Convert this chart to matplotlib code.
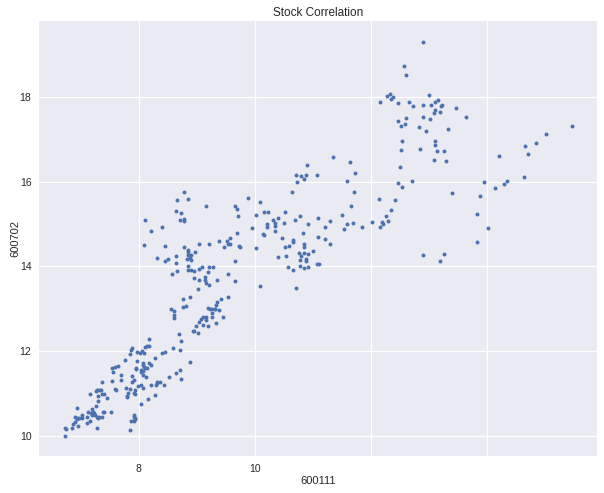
import matplotlib
matplotlib.use("Agg")
import matplotlib.pyplot as plt

stock_600111 = [
6.74,6.75,6.74,6.86,6.87,6.91,6.96,6.94,6.91,6.94,6.94,6.98,7.03,7.03,7.11,7.11,7.17,7.17,7.29,7.13,
7.20,7.18,7.22,7.20,7.24,7.25,7.29,7.30,7.32,7.37,7.39,7.41,7.53,7.27,7.30,7.30,7.27,7.30,7.29,7.34,
7.36,7.37,7.41,7.46,7.37,7.55,7.55,7.56,7.60,7.65,7.70,7.70,7.60,7.61,7.79,7.86,7.80,7.80,7.82,7.93,
7.94,7.94,7.89,7.93,7.89,7.77,7.86,7.87,7.89,7.98,8.03,8.06,8.10,8.12,8.15,8.18,8.18,7.98,7.96,7.96,
8.08,8.08,8.10,8.12,8.15,8.18,8.22,8.05,8.05,8.08,8.08,8.13,8.22,8.32,8.37,8.32,8.30,8.44,8.53,8.65,
8.72,8.74,8.89,8.29,8.41,8.46,8.60,8.72,8.74,8.70,8.05,7.99,8.08,8.29,8.17,8.05,7.93,7.93,7.94,7.93,
7.87,7.94,7.86,8.56,8.62,8.62,8.62,8.77,8.82,8.96,8.94,9.03,8.99,9.05,9.08,9.12,9.17,9.17,9.12,9.20,
9.34,9.27,9.27,9.20,9.24,9.27,9.31,9.32,9.34,9.36,9.39,
8.78,8.66,8.86,9.17,8.64,8.74,8.72,8.78,8.79,8.12,8.22,8.41,8.10,8.45,8.31,8.45,8.50,8.64,8.64,8.79,
9.04,9.22,9.38,9.52,9.57,9.57,9.54,9.48,9.74,9.69,9.67,9.69,9.72,8.98,8.86,8.85,8.86,8.90,8.88,8.83,
8.91,8.85,8.86,8.91,8.95,9.05,9.09,9.21,9.29,9.19,8.95,9.05,9.14,9.14,9.16,9.21,9.35,9.55,9.67,9.66,
8.57,8.67,9.02,8.76,8.88,9.43,9.54,9.45,
11.35,11.64,10.91,11.73,10.71,10.81,10.88,11.07,10.86,10.74,11.59,10.64,11.71,9.88,10.10,10.03,10.17,
10.24,10.53,10.78,10.31,10.41,10.36,10.22,10.35,10.21,10.69,10.50,10.93,11.09,11.31,11.21,11.50,11.60,
11.69,11.55,11.85,11.67,9.95,10.36,10.83,10.14,10.16,10.48,10.66,10.67,11.09,11.21,10.85,10.86,11.31,
10.53,10.60,10.03,9.75,11.00,10.76,10.86,10.93,10.81,10.41,10.55,10.79,10.88,10.88,11.07,11.12,10.57,
10.79,10.93,10.85,10.66,10.10,10.72,12.14,12.42,12.36,12.26,12.31,12.19,12.21,12.17,12.02,
12.90,12.57,12.62,13.00,12.33,12.29,12.38,12.36,12.17,12.48,12.67,12.74,12.90,13.05,13.12,13.17,13.21,
13.24,13.12,13.10,13.19,13.47,13.64,12.48,12.62,12.91,13.03,12.52,12.60,12.84,12.96,13.34,12.55,13.12,
13.12,12.52,12.86,13.15,13.26,13.09,13.31,12.50,12.48,12.55,12.71,13.95,
15.48,15.02,14.86,14.66,14.71,14.22,14.64,14.35,14.31,14.14,13.41,13.88,13.83,14.02,13.84,12.90,13.26,13.19,
]
stock_600702 = [
10.18,10.16,9.99,10.20,10.28,10.32,10.23,10.65,10.44,10.39,10.42,10.42,10.49,10.42,10.44,10.30,10.35,10.98,10.20,10.56,
10.63,10.54,10.56,10.49,10.54,10.49,10.44,10.42,10.44,10.44,10.56,10.56,10.56,10.70,10.82,10.94,11.05,11.08,11.08,11.08,
11.08,10.98,10.98,10.89,11.27,11.29,11.60,11.50,11.62,11.64,11.43,11.31,11.10,11.08,11.13,11.10,10.91,10.94,11.01,11.01,
10.98,11.08,11.27,11.31,11.41,11.79,11.93,12.02,12.07,11.98,11.95,12.00,11.95,12.09,12.12,12.12,12.28,11.76,11.60,11.57,
11.72,11.67,11.62,11.60,11.60,11.72,11.67,11.55,11.50,11.53,11.43,11.39,11.20,11.27,11.27,11.24,11.20,11.20,11.39,11.48,
11.55,11.34,11.74,11.83,11.95,11.98,12.07,12.02,12.24,12.40,11.20,11.17,11.13,10.96,10.87,10.75,10.49,10.44,10.39,10.35,
10.35,10.42,10.13,12.99,12.94,12.85,12.78,13.04,13.06,12.47,12.47,12.43,12.59,12.68,12.75,12.80,12.80,12.73,12.61,12.59,
12.66,12.80,12.90,13.02,12.99,12.99,12.99,12.99,13.09,13.16,12.97,
15.75,15.56,15.58,15.42,15.30,15.25,15.09,15.06,15.11,15.09,14.83,14.94,14.50,14.47,14.19,14.12,14.17,14.24,14.09,14.45,
14.54,14.54,14.61,14.59,14.66,14.54,14.52,14.45,14.47,14.78,15.42,15.35,15.20,14.33,14.38,14.35,14.28,14.28,14.19,14.17,
14.14,14.00,13.91,13.91,13.88,13.95,13.98,13.98,13.98,13.86,13.72,13.67,13.74,13.67,13.60,13.57,13.67,13.81,13.65,14.12,
13.81,13.88,13.46,13.24,13.27,13.22,13.27,12.80,
16.57,16.47,16.38,16.21,16.16,16.14,16.16,16.16,16.07,15.98,16.02,15.76,15.76,15.62,15.53,15.22,15.29,
15.29,15.29,15.20,15.10,15.13,15.03,15.01,14.96,14.94,15.10,15.03,15.01,15.13,15.08,14.94,15.22,15.01,
15.03,14.89,14.94,15.43,14.91,14.84,14.79,14.77,14.75,14.68,14.63,14.58,14.70,14.65,14.54,14.46,14.54,
14.46,14.49,14.44,14.46,14.37,14.32,14.32,14.30,14.25,14.23,14.25,14.16,14.18,14.13,14.06,14.06,13.99,
14.02,13.99,13.97,13.92,13.54,13.50,15.60,15.57,15.34,15.20,15.08,15.05,15.01,14.94,15.05,
19.30,18.73,18.52,18.05,18.07,18.02,18.00,17.95,17.88,17.86,17.88,17.79,17.81,17.81,17.88,17.93,17.79,
17.81,17.69,17.62,17.65,17.74,17.53,17.43,17.50,17.53,17.48,17.32,17.36,17.29,17.20,17.24,16.96,16.96,
16.87,16.75,16.77,16.73,16.73,16.51,16.49,16.35,15.97,15.88,16.02,15.99,
17.32,17.13,16.92,16.85,16.66,16.61,16.12,16.02,15.95,15.86,15.72,15.65,15.24,14.91,14.58,14.28,14.30,14.13,
]
x_ticks = [8, 10, 12, 14]
x_tick_labels = ["8", "10", "", ""]
y_ticks = [10, 12, 14, 16, 18]
title = "Stock Correlation"
x_label = "600111"
y_label = "600702"

plt.rcParams["font.family"] = ["Liberation Sans", "DejaVu Sans"]
W, H = 604, 493
fig = plt.figure(figsize=(W / 100, H / 100), dpi=100, facecolor="white")
ax = fig.add_axes([39 / W, 1 - 456 / H, (597 - 39) / W, (456 - 21) / H], facecolor="#EAEAF2")
ax.scatter(stock_600111, stock_600702, s=8, color="#4C72B0", linewidths=0, zorder=3)
ax.set_xlim(6.284, 15.905)
ax.set_ylim(9.528, 19.788)
ax.set_xticks(x_ticks, x_tick_labels)
ax.set_yticks(y_ticks)
ax.grid(True, color="white", linewidth=0.9, zorder=1)
ax.set_axisbelow(True)
for s in ax.spines.values():
    s.set_visible(False)
ax.tick_params(length=0, labelsize=7.5, labelcolor="#262626", pad=5.5)
ax.set_title(title, fontsize=8.5, color="#262626", pad=3.5)
ax.set_xlabel(x_label, fontsize=8, color="#262626", labelpad=1.5)
ax.set_ylabel(y_label, fontsize=8, color="#262626", labelpad=-0.5)
fig.savefig("out.png", dpi=100)
